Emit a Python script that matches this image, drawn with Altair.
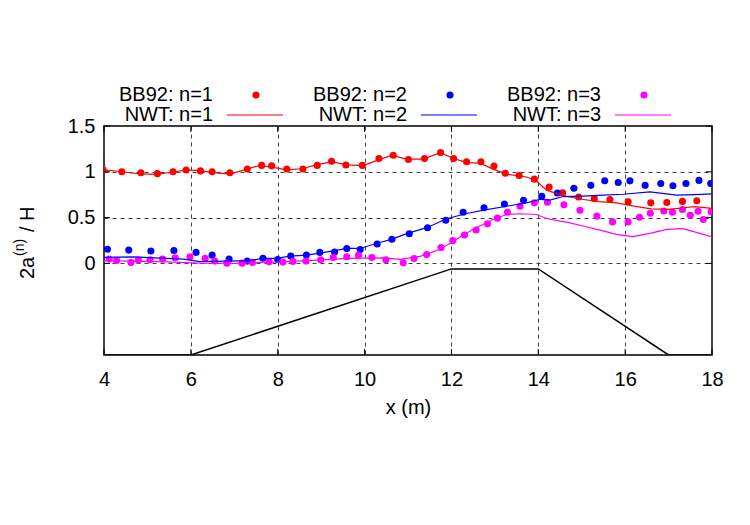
import altair as alt
import pandas as pd

# ---- BB92 measurements: harmonic amplitudes 2a(n)/H along the flume ----
bb1_x = [3.98, 4.41, 4.85, 5.23, 5.59, 5.89, 6.22, 6.49, 6.90, 7.30, 7.63, 7.86, 8.21, 8.58,
         8.91, 9.24, 9.57, 9.95, 10.33, 10.66, 11.01, 11.38, 11.75, 12.05, 12.35, 12.68,
         12.98, 13.24, 13.56, 13.91, 14.25, 14.56, 14.93, 15.29, 15.65, 16.07, 16.59,
         16.96, 17.32, 17.65]
bb1_y = [1.02, 1.00, 0.99, 0.98, 1.00, 1.02, 1.01, 1.00, 0.99, 1.03, 1.07, 1.065, 1.03, 1.03,
         1.07, 1.115, 1.075, 1.07, 1.145, 1.18, 1.135, 1.145, 1.21, 1.145, 1.11, 1.11,
         1.062, 0.985, 0.96, 0.92, 0.833, 0.77, 0.724, 0.709, 0.697, 0.673, 0.661,
         0.665, 0.677, 0.683]

bb2_x = [4.08, 4.57, 5.08, 5.61, 6.12, 6.49, 6.88, 7.30, 7.66, 8.00, 8.30, 8.66, 8.97, 9.31,
         9.59, 9.90, 10.29, 10.63, 11.03, 11.45, 11.87, 12.27, 12.75, 13.22, 13.66, 14.08,
         14.44, 14.82, 15.21, 15.53, 15.84, 16.11, 16.46, 16.82, 17.10, 17.40, 17.70, 17.97]
bb2_y = [0.155, 0.145, 0.135, 0.14, 0.12, 0.09, 0.047, 0.025, 0.056, 0.042, 0.08, 0.092,
         0.12, 0.124, 0.163, 0.152, 0.212, 0.263, 0.323, 0.39, 0.472, 0.559, 0.607, 0.648,
         0.689, 0.732, 0.769, 0.821, 0.852, 0.902, 0.883, 0.901, 0.852, 0.872, 0.848,
         0.872, 0.906, 0.872]

bb3_x = [4.12, 4.29, 4.62, 4.79, 5.06, 5.35, 5.64, 5.98, 6.33, 6.55, 6.83, 7.18, 7.42, 7.80,
         8.12, 8.35, 8.65, 8.99, 9.28, 9.59, 9.86, 10.17, 10.49, 10.89, 11.14, 11.43, 11.76,
         12.03, 12.30, 12.57, 12.83, 13.06, 13.29, 13.58, 13.91, 14.21, 14.59, 14.96,
         15.35, 15.71, 16.07, 16.33, 16.58, 16.89, 17.09, 17.32, 17.50, 17.68, 17.80, 17.98]
bb3_y = [0.047, 0.033, 0.011, 0.036, 0.039, 0.047, 0.061, 0.072, 0.057, 0.025, 0.003, 0.003,
         0.011, 0.017, 0.014, 0.022, 0.025, 0.039, 0.065, 0.072, 0.09, 0.065, 0.039, 0.007,
         0.054, 0.098, 0.173, 0.249, 0.31, 0.364, 0.433, 0.494, 0.559, 0.624, 0.661, 0.667,
         0.64, 0.581, 0.516, 0.453, 0.453, 0.503, 0.548, 0.573, 0.559, 0.588, 0.525, 0.57,
         0.48, 0.565]

# ---- NWT simulation ----
nwt1_x = [4.0, 4.37, 4.83, 5.21, 5.56, 5.89, 6.21, 6.52, 6.90, 7.29, 7.59, 7.90, 8.21, 8.55,
          8.90, 9.24, 9.59, 9.97, 10.32, 10.62, 10.97, 11.35, 11.74, 12.04, 12.35, 12.66,
          12.96, 13.27, 13.73, 13.96, 14.19, 14.38, 14.57, 15.0, 15.4, 15.8, 16.2, 16.6,
          17.0, 17.3, 17.6, 18.0]
nwt1_y = [1.02, 1.003, 0.978, 0.972, 0.995, 1.02, 1.012, 0.992, 0.975, 1.03, 1.07, 1.048,
          1.022, 1.033, 1.076, 1.112, 1.076, 1.068, 1.13, 1.18, 1.138, 1.138, 1.209, 1.148,
          1.10, 1.094, 1.029, 0.975, 0.943, 0.899, 0.80, 0.77, 0.74, 0.70, 0.675, 0.66,
          0.625, 0.595, 0.59, 0.605, 0.62, 0.60]

nwt2_x = [4.0, 4.67, 5.44, 5.83, 6.21, 6.83, 7.36, 7.67, 7.98, 8.28, 8.67, 8.97, 9.28, 9.59,
          9.90, 10.28, 10.62, 10.97, 11.43, 11.89, 12.35, 12.81, 13.27, 13.73, 14.04, 14.27,
          14.57, 15.03, 15.5, 15.95, 16.57, 17.19, 17.6, 18.0]
nwt2_y = [0.065, 0.072, 0.054, 0.047, 0.02, 0.025, 0.03, 0.055, 0.054, 0.08, 0.09, 0.112,
          0.137, 0.163, 0.163, 0.22, 0.263, 0.325, 0.39, 0.488, 0.545, 0.588, 0.624, 0.661,
          0.70, 0.69, 0.73, 0.735, 0.745, 0.755, 0.78, 0.745, 0.75, 0.758]

nwt3_x = [4.0, 4.67, 5.44, 6.21, 6.98, 7.59, 8.13, 8.90, 9.66, 10.43, 10.82, 11.28, 11.74,
          12.12, 12.50, 12.96, 13.27, 13.58, 13.96, 14.19, 14.50, 14.65, 15.03, 15.42, 15.80,
          16.18, 16.57, 16.96, 17.33, 17.72, 18.0]
nwt3_y = [0.028, 0.025, 0.017, 0.003, 0.0, 0.011, 0.017, 0.036, 0.054, 0.061, 0.045, 0.076,
          0.155, 0.263, 0.372, 0.48, 0.534, 0.542, 0.534, 0.49, 0.462, 0.451, 0.408, 0.364,
          0.317, 0.292, 0.328, 0.372, 0.379, 0.328, 0.29]

# ---- submerged bar profile (scaled) ----
bar_x = [4, 6, 12, 14, 17, 18]
bar_y = [-1, -1, -0.06, -0.06, -1, -1]

x_ticks = [4, 6, 8, 10, 12, 14, 16, 18]
y_ticks = [0, 0.5, 1, 1.5]

W, H = 608, 229
FONT = "Liberation Sans"
FS = 20
RED, BLUE, MAGENTA = "#ff0000", "#0000ff", "#ff00ff"

xscale = alt.Scale(domain=[4, 18], nice=False, zero=False)
yscale = alt.Scale(domain=[-1, 1.5], nice=False, zero=False)

grid_kw = dict(grid=True, gridColor="#404040", gridDash=[4, 4], gridWidth=1,
               domain=False, ticks=False, tickSize=0, labelFont=FONT,
               labelFontSize=FS, labelColor="black")
X = alt.X("x:Q", scale=xscale,
          axis=alt.Axis(values=x_ticks, title="x (m)", titleFont=FONT,
                        titleFontSize=FS, titleFontWeight="normal", titleColor="black",
                        titlePadding=8, labelPadding=14, labelFlush=False, **grid_kw))
Y = alt.Y("y:Q", scale=yscale,
          axis=alt.Axis(values=y_ticks, title=None, format="~g", labelPadding=9, **grid_kw))


def frame(xs, ys):
    return pd.DataFrame({"x": xs, "y": ys})


bar = alt.Chart(frame(bar_x, bar_y)).mark_line(color="black", strokeWidth=1.5, clip=True).encode(
    x=X, y=Y, order=alt.Order("i:Q")).transform_window(i="row_number()")

layers = [bar]
for xs, ys, col in [(bb1_x, bb1_y, RED), (bb2_x, bb2_y, BLUE), (bb3_x, bb3_y, MAGENTA)]:
    layers.append(alt.Chart(frame(xs, ys)).mark_circle(color=col, size=50, opacity=1,
                                                       clip=True).encode(x=X, y=Y))
for xs, ys, col in [(nwt1_x, nwt1_y, RED), (nwt2_x, nwt2_y, BLUE), (nwt3_x, nwt3_y, MAGENTA)]:
    layers.append(alt.Chart(frame(xs, ys)).mark_line(color=col, strokeWidth=1.2,
                                                     clip=True).encode(x=X, y=Y))

# inward tick marks on all four borders
tx = pd.DataFrame({"x": x_ticks})
ty = pd.DataFrame({"y": y_ticks})
TL = 6
for y0, y1 in [(H, H - TL), (0, TL)]:
    layers.append(alt.Chart(tx).mark_rule(color="black", strokeWidth=1).encode(
        x=X, y=alt.value(y0), y2=alt.value(y1)))
for x0, x1 in [(0, TL), (W, W - TL)]:
    layers.append(alt.Chart(ty).mark_rule(color="black", strokeWidth=1).encode(
        y=Y, x=alt.value(x0), x2=alt.value(x1)))

one = pd.DataFrame({"k": [0]})

# y-axis title: 2a^(n) / H, rotated
YT_X, SUP_X = -76, -84
for txt, px, py, fs in [("2a", YT_X, 153, FS), ("(n)", SUP_X, 130, 14), ("/ H", YT_X, 106, FS)]:
    layers.append(alt.Chart(one).mark_text(text=txt, angle=270, align="left",
                                           baseline="middle", font=FONT, fontSize=fs,
                                           color="black").encode(
        x=alt.value(px), y=alt.value(py)))

# key: three columns, BB92 symbols on the first row, NWT lines on the second
key_cols = [("n=1", RED, 109), ("n=2", BLUE, 303), ("n=3", MAGENTA, 497)]
ROW1, ROW2 = -31, -11
for n, col, tx_right in key_cols:
    layers.append(alt.Chart(one).mark_text(text=f"BB92: {n}", align="right", baseline="middle",
                                           font=FONT, fontSize=FS, color="black").encode(
        x=alt.value(tx_right), y=alt.value(ROW1)))
    layers.append(alt.Chart(one).mark_text(text=f"NWT: {n}", align="right", baseline="middle",
                                           font=FONT, fontSize=FS, color="black").encode(
        x=alt.value(tx_right), y=alt.value(ROW2)))
    layers.append(alt.Chart(one).mark_circle(color=col, size=50, opacity=1).encode(
        x=alt.value(tx_right + 43), y=alt.value(ROW1)))
    layers.append(alt.Chart(one).mark_rule(color=col, strokeWidth=1.2).encode(
        x=alt.value(tx_right + 14), x2=alt.value(tx_right + 70), y=alt.value(ROW2)))

chart = alt.layer(*layers).properties(
    width=W, height=H,
    autosize=alt.AutoSizeParams(type="none"),
    padding={"left": 104, "top": 126, "right": 38, "bottom": 170},
    background="white",
).configure_view(stroke="black", strokeWidth=1.5)

chart.save("out.html", embed_options={"renderer": "svg", "actions": False})
